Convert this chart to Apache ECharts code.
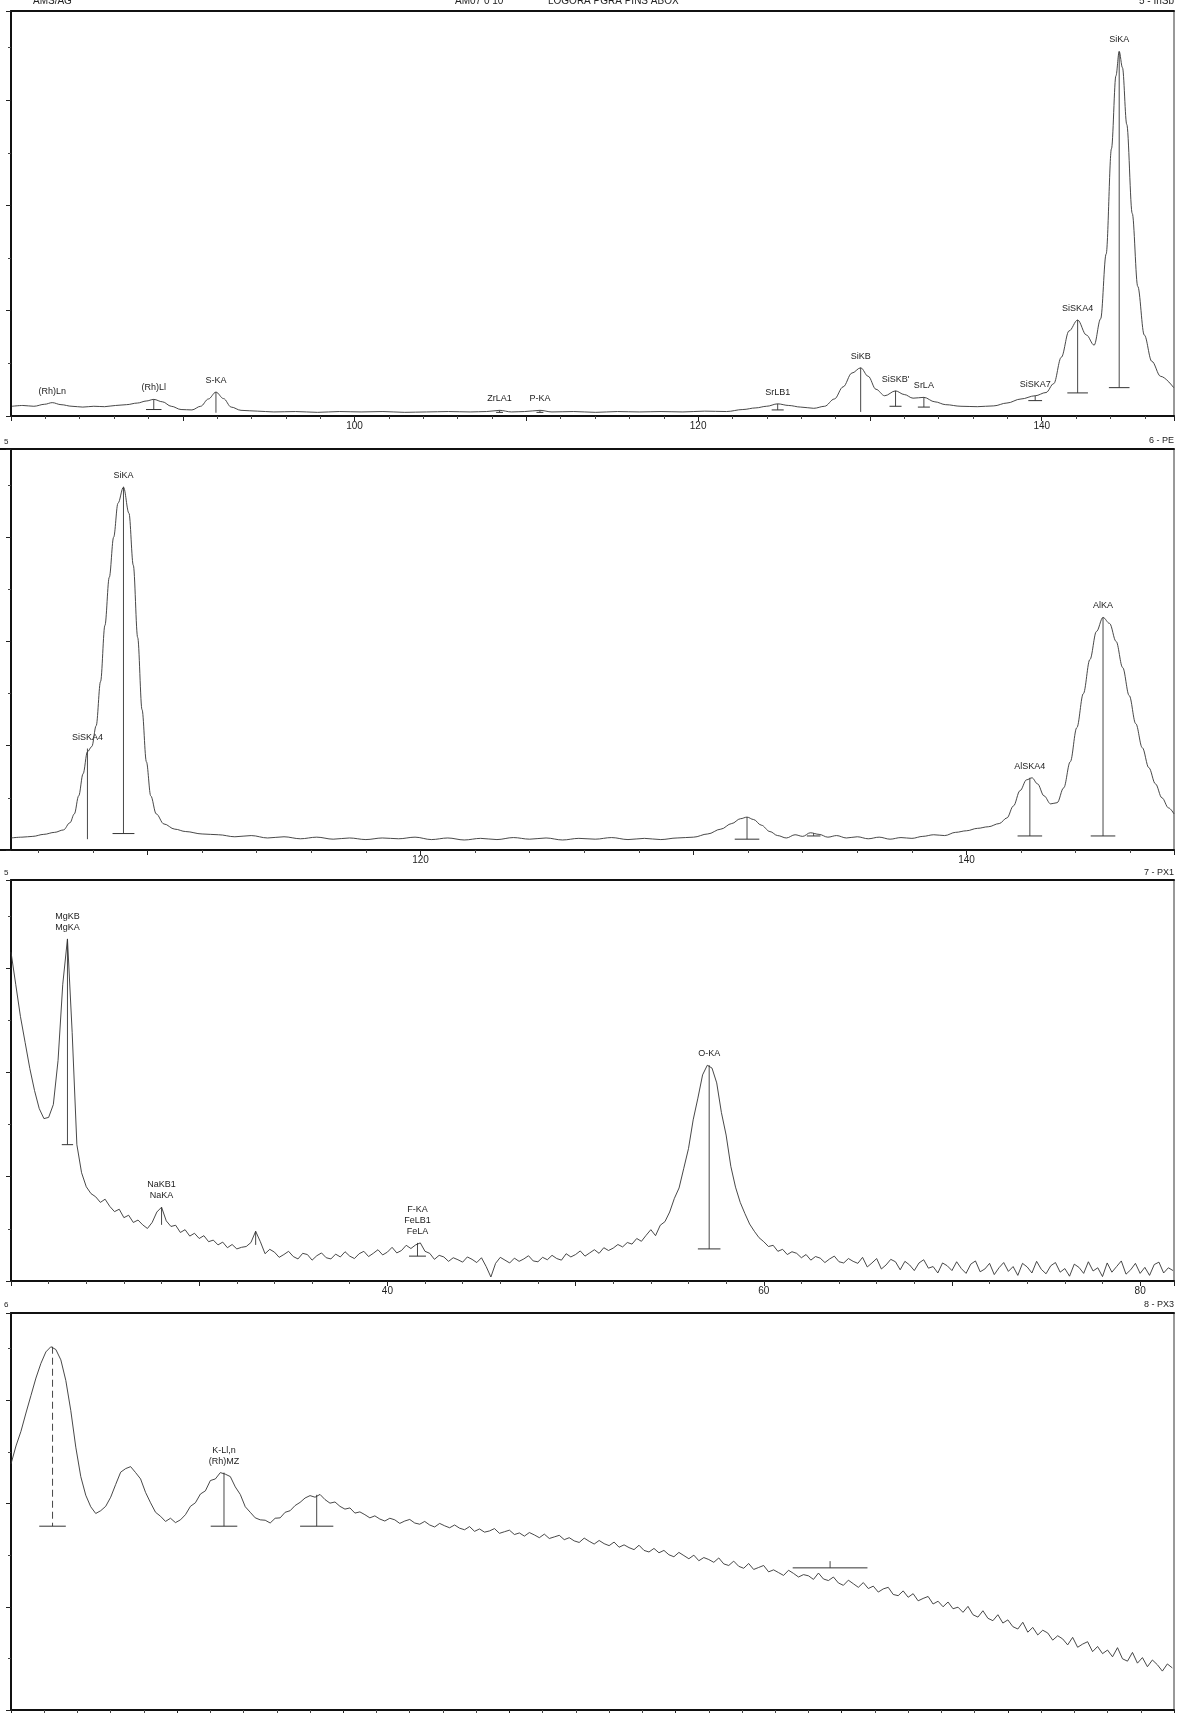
<!DOCTYPE html>
<html>
<head>
<meta charset="utf-8">
<script src="https://cdn.jsdelivr.net/npm/echarts@6/dist/echarts.min.js"></script>
<style>
  html, body { margin: 0; padding: 0; background: #fff; }
  #c { width: 1182px; height: 1713px; }
</style>
</head>
<body>
<div id="c"></div>
<script>
// ---------- Scan 5 - InSb : 2-theta (deg) vs intensity (% of full scale) ----------
const p1Trace = [
  [80.06,2.4],[80.69,2.6],[81.33,2.4],[81.96,2.9],[82.40,3.3],[82.91,2.8],[83.55,2.4],[84.18,2.2],
  [84.82,2.4],[85.45,2.3],[86.09,2.6],[86.72,2.8],[87.36,3.2],[87.87,3.7],[88.31,4.1],[88.82,3.5],
  [89.33,2.4],[89.90,1.6],[90.53,1.5],[91.04,2.4],[91.49,4.2],[91.93,5.9],[92.37,4.3],[92.82,2.2],
  [93.39,1.4],[94.34,1.2],[95.30,1.0],[96.57,1.1],[97.84,0.9],[99.11,1.1],[100.38,1.0],[101.65,1.1],
  [102.92,0.9],[104.19,1.0],[105.46,1.1],[106.73,1.0],[107.68,1.1],[108.44,1.4],[109.14,1.0],[109.90,1.1],
  [110.79,1.4],[111.49,1.0],[112.76,1.1],[114.03,0.9],[115.30,1.1],[116.57,1.0],[117.84,1.1],[119.11,1.0],
  [120.38,1.2],[121.65,1.1],[122.60,1.6],[123.36,2.0],[123.98,2.4],[124.63,3.0],[125.27,2.6],[125.97,2.2],
  [126.73,1.9],[127.36,2.4],[127.93,4.2],[128.44,7.2],[128.95,10.6],[129.46,11.9],[129.90,9.8],[130.35,6.6],
  [130.86,5.0],[131.49,6.2],[132.00,5.3],[132.51,4.4],[133.14,4.6],[133.78,3.5],[134.41,2.8],[135.30,2.4],
  [136.25,2.3],[137.21,2.5],[137.97,3.2],[138.79,4.2],[139.62,5.0],[140.25,5.8],[140.70,8.0],[141.14,14.5],
  [141.59,21.0],[142.09,23.7],[142.60,20.0],[143.05,17.5],[143.43,24.0],[143.75,40.0],[144.06,66.0],[144.32,84.0],
  [144.51,90.0],[144.70,86.0],[144.95,72.0],[145.27,50.0],[145.59,32.0],[145.97,20.0],[146.41,13.5],[146.92,9.8],
  [147.68,7.0]
];
// peak markers: [angle, top, base, half-width of base bar, dashed]
const p1Marks = [
  [82.40,3.3,3.3,0,0],[88.31,4.1,1.6,0.45,0],[91.93,5.9,0.8,0,0],[108.44,1.4,0.9,0.2,0],[110.79,1.4,0.9,0.2,0],
  [124.63,3.0,1.5,0.35,0],[129.46,11.9,1.0,0,0],[131.49,6.2,2.4,0.35,0],[133.14,4.6,2.2,0.35,0],
  [139.62,5.0,3.8,0.4,0],[142.09,23.7,5.7,0.6,0],[144.51,90.0,7.0,0.6,0]
];
const p1Names = ['(Rh)Ln','(Rh)Ll','S-KA','ZrLA1','P-KA','SrLB1','SiKB',"SiSKB'",'SrLA','SiSKA7','SiSKA4','SiKA'];

// ---------- Scan 6 - PE ----------
const p2Trace = [
  [105.0,3.0],[105.4,3.2],[105.8,3.4],[106.2,3.9],[106.6,4.4],[106.92,5.0],[107.16,6.8],[107.32,9.0],
  [107.48,13.5],[107.64,19.0],[107.8,24.5],[107.96,25.8],[108.12,31],[108.28,42],[108.44,56],[108.6,68],
  [108.76,78],[108.92,86.5],[109.12,90.5],[109.32,84],[109.48,71],[109.64,53],[109.8,35],[109.96,22],
  [110.12,13.5],[110.32,9.0],[110.6,6.5],[111.0,5.2],[111.4,4.6],[112.0,4.0],[112.6,3.8],[113.2,3.3],
  [113.8,3.6],[114.4,3.0],[115.0,3.3],[115.6,2.8],[116.2,3.2],[116.8,2.7],[117.4,3.0],[118.0,2.6],
  [118.6,3.0],[119.2,2.8],[119.8,3.2],[120.4,2.6],[121.0,3.0],[121.6,2.5],[122.2,2.9],[122.8,2.6],
  [123.4,3.1],[124.0,2.7],[124.6,3.0],[125.2,2.5],[125.8,2.9],[126.4,2.7],[127.0,3.1],[127.6,2.6],
  [128.2,2.9],[128.8,2.6],[129.4,3.0],[130.0,3.2],[130.52,4.0],[131.0,5.2],[131.4,6.6],[131.72,7.8],
  [131.96,8.2],[132.2,7.6],[132.48,6.2],[132.8,4.6],[133.08,3.6],[133.4,3.0],[133.72,3.8],[134.0,3.4],
  [134.28,4.3],[134.6,3.9],[134.92,3.2],[135.24,3.6],[135.6,3.0],[136.0,3.3],[136.4,2.8],[136.8,3.2],
  [137.2,2.7],[137.6,3.1],[138.0,2.9],[138.4,3.4],[138.8,3.8],[139.2,3.6],[139.6,4.4],[140.0,4.8],
  [140.4,5.4],[140.8,5.8],[141.2,6.6],[141.48,8.0],[141.72,11],[141.96,14.8],[142.2,17.5],[142.4,18.0],
  [142.6,16.5],[142.84,13.5],[143.08,11.5],[143.32,11.8],[143.56,15.5],[143.8,22],[144.04,30.5],[144.28,39],
  [144.52,47.5],[144.76,54.5],[145.0,58.0],[145.24,56.5],[145.48,52],[145.72,45.5],[145.96,38.5],[146.2,31.5],
  [146.44,25.5],[146.68,20.5],[146.92,16.5],[147.16,13.0],[147.4,10.5],[147.6,9.0]
];
const p2Marks = [
  [107.8,25.3,2.7,0,0],[109.12,90.5,4.1,0.4,0],[131.96,8.2,2.7,0.45,0],[134.4,4.2,3.5,0.25,0],
  [142.32,18.0,3.5,0.45,0],[145.0,58.0,3.5,0.45,0]
];
const p2Names = ['SiSKA4','SiKA','','','AlSKA4','AlKA'];

// ---------- Scan 7 - PX1 : counts sampled every 0.25 deg from 20.00 ----------
const p3Start = 20.0, p3Step = 0.25;
const p3Counts = [
  82,74,66,59.5,53,47.5,43,40.5,40.8,44,
  55,74,85.3,62,34,27,23.5,21.8,21,19.6,
  20.4,18.6,17.3,17.9,15.8,16.4,14.6,15.2,14.0,13.1,
  14.6,17.2,18.4,15.0,13.6,13.9,12.1,12.8,11.2,11.9,
  10.6,11.3,9.8,10.2,9.0,9.7,8.3,9.1,8.0,8.4,
  8.6,9.6,12.4,9.8,6.8,7.9,7.2,5.9,6.6,7.4,
  6.1,5.5,6.9,6.6,5.2,6.3,7.0,5.8,5.5,6.7,
  6.0,7.3,6.2,5.6,6.8,7.4,6.1,6.9,7.8,6.5,
  7.2,8.4,7.0,7.6,8.9,8.1,9.0,9.5,7.4,6.9,
  5.4,6.4,6.0,4.9,5.8,5.3,4.7,6.0,5.4,4.6,
  5.8,3.6,1.0,4.4,5.9,5.2,4.5,5.7,4.9,5.5,
  6.3,5.0,4.8,5.9,5.3,6.4,5.6,5.2,6.8,6.0,
  6.6,7.5,6.2,7.0,7.8,6.9,8.3,7.6,8.2,9.1,
  8.5,9.6,9.2,10.6,9.9,11.4,12.8,11.3,13.9,14.8,
  17.2,20.6,23.2,28.1,33.0,40.2,45.6,51.4,53.8,53.1,
  49.4,42.0,36.4,28.6,23.4,19.6,16.8,14.2,12.4,10.8,
  9.8,8.6,8.9,7.4,7.9,6.6,7.3,6.9,5.8,6.6,
  5.2,6.1,5.7,4.6,5.5,6.2,4.8,4.5,5.6,4.9,
  4.4,5.9,3.5,4.5,5.6,3.0,4.0,5.4,4.8,2.8,
  4.9,4.0,2.6,4.5,5.3,3.2,3.6,2.0,4.5,3.8,
  2.6,4.8,3.1,1.9,4.2,5.0,2.3,3.0,4.4,1.6,
  3.3,4.6,2.4,3.6,1.4,4.4,3.5,2.0,4.9,2.9,
  1.8,3.8,4.6,2.2,3.1,1.2,4.2,3.4,1.9,4.8,
  2.5,3.3,1.1,4.5,2.2,3.6,5.0,1.7,2.8,4.4,
  1.9,3.4,1.4,4.1,4.7,2.0,3.3,2.6
];
const p3Marks = [
  [23.0,85.3,34.0,0.3,0],[28.0,18.4,14.0,0,0],[33.0,12.4,9.0,0,0],[41.6,9.5,6.2,0.45,0],[57.1,53.8,8.0,0.6,0]
];
const p3Names = ['MgKB\nMgKA','NaKB1\nNaKA','','F-KA\nFeLB1\nFeLA','O-KA'];

// ---------- Scan 8 - PX3 : counts sampled every 0.3 deg from 20.0 ----------
const p4Start = 20.0, p4Step = 0.3;
const p4Counts = [
  62,66.5,70.2,74.8,79.2,83.6,87.3,90.2,91.5,90.8,
  88.2,83.0,75.4,66.2,58.8,54.1,51.2,49.5,50.2,51.3,
  53.6,56.8,59.9,60.8,61.3,59.8,58.2,54.8,52.2,49.8,
  48.8,47.5,48.3,47.2,47.9,49.2,51.3,52.2,54.4,55.2,
  57.8,58.2,59.8,59.4,58.8,56.2,54.3,51.2,49.8,48.4,
  47.9,47.8,47.1,48.3,48.4,49.8,50.2,51.5,52.3,53.4,
  54.0,53.6,54.3,53.0,52.1,52.4,51.3,50.6,50.9,49.6,
  49.9,49.2,48.4,48.9,48.1,47.6,48.3,47.9,47.0,47.6,
  48.0,47.1,46.8,47.5,46.6,46.1,47.0,46.4,45.9,46.6,
  45.8,45.4,46.2,45.0,45.6,44.8,45.1,45.7,44.5,44.9,
  45.3,44.2,44.6,43.8,44.7,44.1,43.4,44.3,43.2,43.6,
  44.0,42.9,43.4,42.6,42.2,43.3,42.5,41.8,42.7,41.9,
  41.4,42.3,41.0,41.6,40.9,40.4,41.5,40.2,39.8,40.7,
  39.6,40.2,39.1,38.6,39.7,38.9,38.1,39.0,37.6,38.4,
  37.9,37.2,38.3,36.8,36.4,37.5,36.2,35.7,36.9,35.4,
  35.9,36.4,34.8,35.3,34.6,33.9,35.2,34.4,33.5,34.1,
  33.8,32.9,34.5,33.0,32.6,33.5,32.0,31.4,32.7,31.8,
  30.9,32.1,30.6,31.2,29.7,30.5,30.9,29.1,28.8,30.0,
  28.4,29.3,27.5,28.1,28.6,26.7,27.4,26.0,27.2,25.5,
  25.9,24.6,26.1,24.0,23.4,25.0,23.1,22.5,24.0,21.9,
  22.7,21.0,20.4,22.1,19.6,20.8,18.9,20.1,19.4,17.6,
  18.7,17.9,16.4,18.3,15.8,16.6,17.2,14.7,16.0,14.2,
  15.1,13.4,15.7,12.9,12.3,14.5,11.8,13.2,10.9,12.6,
  11.4,9.8,11.6,10.6
];
const p4Marks = [
  [22.5,91.5,46.3,0.8,1],[32.82,59.8,46.3,0.8,0],[38.4,54.2,46.3,1.0,0],[69.3,37.5,35.8,2.25,0]
];
const p4Names = ['','K-Ll,n\n(Rh)MZ','',''];

// ---------- layout ----------
const FONT = '"Liberation Sans", Arial, sans-serif';
const INK = '#222';
const FRAME_L = 11, FRAME_R = 1174;
// tickMin: first round value of the tick grid; the frame starts at `start`
const panels = [
  { top: 11,   height: 405, tickMin: 80,  start: 80,  max: 147.7, trace: p1Trace, marks: p1Marks, names: p1Names, smooth: 0.35 },
  { top: 449,  height: 401, tickMin: 100, start: 105, max: 147.6, trace: p2Trace, marks: p2Marks, names: p2Names, smooth: 0.35 },
  { top: 880,  height: 401, tickMin: 20,  start: 20,  max: 81.8,  trace: p3Counts.map((v, i) => [+(p3Start + i * p3Step).toFixed(2), v]), marks: p3Marks, names: p3Names, smooth: false },
  { top: 1313, height: 397, tickMin: 20,  start: 20,  max: 90,    trace: p4Counts.map((v, i) => [+(p4Start + i * p4Step).toFixed(2), v]), marks: p4Marks, names: p4Names, smooth: false }
];

function markRenderer(names) {
  return function (params, api) {
    const x = api.value(0), top = api.value(1), base = api.value(2), hw = api.value(3), dashed = api.value(4);
    const pTop = api.coord([x, top]);
    const pBase = api.coord([x, base]);
    const kids = [];
    if (top > base) {
      kids.push({ type: 'line', shape: { x1: pTop[0], y1: pTop[1], x2: pBase[0], y2: pBase[1] },
        style: { stroke: '#333', lineWidth: 0.9, lineDash: dashed ? [7, 4] : null } });
    }
    if (hw > 0) {
      const l = api.coord([x - hw, base]), r = api.coord([x + hw, base]);
      kids.push({ type: 'line', shape: { x1: l[0], y1: l[1], x2: r[0], y2: r[1] },
        style: { stroke: '#333', lineWidth: 1 } });
    }
    const name = names[params.dataIndex];
    if (name) {
      kids.push({ type: 'text', x: pTop[0], y: pTop[1] - 6,
        style: { text: name, align: 'center', verticalAlign: 'bottom', font: '9px ' + FONT,
                 fill: INK, lineHeight: 11 } });
    }
    return { type: 'group', children: kids };
  };
}

const grid = [], xAxis = [], yAxis = [], series = [];
panels.forEach((p, i) => {
  // when the scan starts between round ticks, the plot area reaches left of the frame
  const pxPerDeg = (FRAME_R - FRAME_L) / (p.max - p.start);
  const shift = (p.start - p.tickMin) * pxPerDeg;
  grid.push({ left: FRAME_L - shift, right: 1182 - FRAME_R, top: p.top, height: p.height, show: true,
              borderColor: '#333', borderWidth: 1, outerBoundsMode: 'none' });
  xAxis.push({
    gridIndex: i, type: 'value', min: p.tickMin, max: p.max, interval: 10,
    axisLine: { onZero: false, lineStyle: { color: '#111', width: 2 } },
    axisTick: { inside: false, length: 5, lineStyle: { color: '#222', width: 1 } },
    minorTick: { show: true, splitNumber: 5, length: 3, lineStyle: { color: '#444', width: 1 } },
    axisLabel: { showMinLabel: false, showMaxLabel: false, margin: 5, fontSize: 10, fontFamily: FONT, color: INK,
                 formatter: v => (Math.abs(v % 20) < 1e-6 ? String(v) : '') },
    splitLine: { show: false }
  });
  yAxis.push({
    gridIndex: i, type: 'value', min: 0, max: 100, interval: 26, offset: -shift,
    axisLine: { show: true, lineStyle: { color: '#111', width: 2 } },
    axisTick: { show: true, inside: false, length: 5, lineStyle: { color: '#222' } },
    minorTick: { show: true, splitNumber: 2, length: 3, lineStyle: { color: '#444' } },
    axisLabel: { show: false },
    splitLine: { show: false }
  });
  series.push({
    type: 'line', xAxisIndex: i, yAxisIndex: i, data: p.trace, showSymbol: false, symbol: 'none',
    smooth: p.smooth, smoothMonotone: 'x', silent: true, animation: false,
    lineStyle: { color: '#333', width: 0.9 }
  });
  series.push({
    type: 'custom', xAxisIndex: i, yAxisIndex: i, data: p.marks, silent: true, animation: false,
    renderItem: markRenderer(p.names), encode: { x: 0, y: [1, 2] }, clip: false
  });
});
// heavy top edge of each frame
panels.forEach((p, i) => {
  xAxis.push({
    gridIndex: i, type: 'value', position: 'top', min: p.tickMin, max: p.max,
    axisLine: { onZero: false, lineStyle: { color: '#111', width: 2 } },
    axisTick: { show: false }, axisLabel: { show: false }, splitLine: { show: false }
  });
});

const txt = (x, y, text, align, size) => ({
  type: 'text', x, y, silent: true,
  style: { text, align: align || 'left', verticalAlign: 'bottom', font: (size || 9) + 'px ' + FONT, fill: INK }
});

const chart = echarts.init(document.getElementById('c'), null, { renderer: 'canvas' });
chart.setOption({
  backgroundColor: '#fff',
  animation: false,
  grid, xAxis, yAxis, series,
  graphic: [
    txt(33, 6, 'AMS/AG', 'left', 10),
    txt(455, 6, 'AM07 0 10', 'left', 10),
    txt(548, 6, 'LOGORA PGRA PINS ABOX', 'left', 10),
    txt(1174, 6, '5 - InSb', 'right', 10),
    txt(4, 446, '5', 'left', 8),
    txt(1174, 445, '6 - PE', 'right', 9),
    txt(4, 877, '5', 'left', 8),
    txt(1174, 877, '7 - PX1', 'right', 9),
    txt(4, 1309, '6', 'left', 8),
    txt(1174, 1309, '8 - PX3', 'right', 9)
  ]
});
</script>
</body>
</html>
